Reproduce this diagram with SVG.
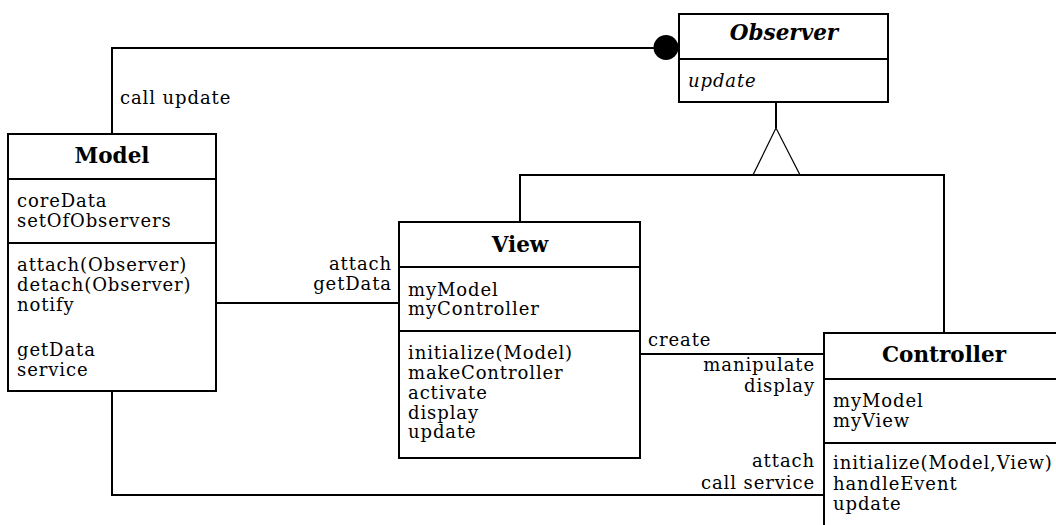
<svg xmlns="http://www.w3.org/2000/svg" width="1056" height="525" viewBox="0 0 1056 525">
<style>
.box{fill:#fff;stroke:#000;stroke-width:2}
.ln{fill:none;stroke:#000;stroke-width:2}
text{font-family:"DejaVu Serif",serif;font-size:18px;letter-spacing:0.9px;fill:#000}
.h{font-weight:bold;font-size:21.5px;letter-spacing:0;text-anchor:middle}
.r{text-anchor:end}
.i{font-style:italic}
</style>
<rect width="1056" height="525" fill="#fff"/>
<g id="connectors">
<polyline class="ln" points="112,134 112,48 655,48"/>
<circle cx="666" cy="47.5" r="12.5" fill="#000"/>
<line class="ln" x1="776" y1="102" x2="776" y2="128"/>
<polygon points="776,128 753,175 800,175" fill="#fff" stroke="#000" stroke-width="1.2"/>
<polyline class="ln" points="520,222 520,175 944,175 944,333"/>
<line class="ln" x1="216" y1="303" x2="399" y2="303"/>
<line class="ln" x1="640" y1="354" x2="824" y2="354"/>
<polyline class="ln" points="112,391 112,495 824,495"/>
<text x="120" y="104">call update</text>
<text class="r" x="392" y="270">attach</text>
<text class="r" x="392" y="290">getData</text>
<text x="648" y="346">create</text>
<text class="r" x="815" y="371">manipulate</text>
<text class="r" x="815" y="392">display</text>
<text class="r" x="815" y="467">attach</text>
<text class="r" x="815" y="489">call service</text>
</g>
<g id="observer">
<rect class="box" x="679" y="14" width="209" height="88"/>
<line class="ln" x1="679" y1="59" x2="888" y2="59"/>
<text class="h i" x="784" y="40">Observer</text>
<text class="i" x="688" y="87">update</text>
</g>
<g id="model">
<rect class="box" x="8" y="134" width="208" height="257"/>
<line class="ln" x1="8" y1="179" x2="216" y2="179"/>
<line class="ln" x1="8" y1="243" x2="216" y2="243"/>
<text class="h" x="112" y="163">Model</text>
<text x="17" y="207">coreData</text>
<text x="17" y="227">setOfObservers</text>
<text x="17" y="271">attach(Observer)</text>
<text x="17" y="291">detach(Observer)</text>
<text x="17" y="311">notify</text>
<text x="17" y="356">getData</text>
<text x="17" y="376">service</text>
</g>
<g id="view">
<rect class="box" x="399" y="222" width="241" height="236"/>
<line class="ln" x1="399" y1="267" x2="640" y2="267"/>
<line class="ln" x1="399" y1="331" x2="640" y2="331"/>
<text class="h" x="520" y="252">View</text>
<text x="408" y="296">myModel</text>
<text x="408" y="315">myController</text>
<text x="408" y="359">initialize(Model)</text>
<text x="408" y="379">makeController</text>
<text x="408" y="399">activate</text>
<text x="408" y="419">display</text>
<text x="408" y="438">update</text>
</g>
<g id="controller">
<polyline class="box" points="1060,333 824,333 824,530 1060,530"/>
<line class="ln" x1="824" y1="379" x2="1060" y2="379"/>
<line class="ln" x1="824" y1="443" x2="1060" y2="443"/>
<text class="h" x="944" y="362">Controller</text>
<text x="833" y="407">myModel</text>
<text x="833" y="427">myView</text>
<text x="833" y="469">initialize(Model,View)</text>
<text x="833" y="490">handleEvent</text>
<text x="833" y="510">update</text>
</g>
</svg>
